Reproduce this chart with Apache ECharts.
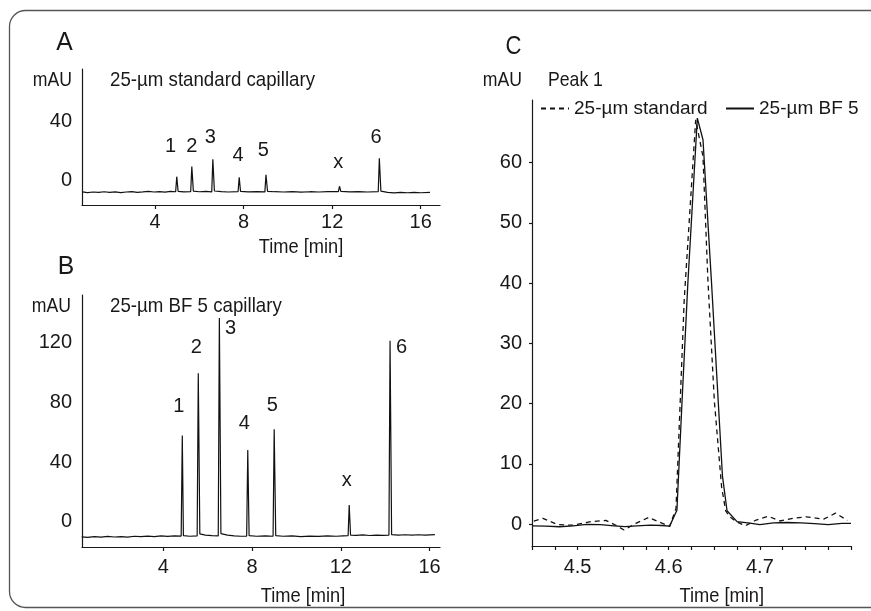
<!DOCTYPE html>
<html>
<head>
<meta charset="utf-8">
<script src="https://cdn.jsdelivr.net/npm/echarts@6/dist/echarts.min.js"></script>
<style>
html,body{margin:0;padding:0;background:#fff;}
#c{width:871px;height:611px;}
</style>
</head>
<body>
<div id="c"></div>
<script>
// ---------- DATA ----------
// Panel A: 25-µm standard capillary  [time (min), mAU]
const traceA = [[0.72,-7.4],[0.95,-7.9],[1.2,-7.5],[1.45,-7.8],[1.7,-7.3],[1.95,-7.7],[2.2,-7.4],[2.45,-7.9],[2.7,-7.5],[2.95,-7.2],[3.2,-7.7],[3.45,-7.4],[3.7,-7.0],[3.95,-7.5],[4.2,-7.2],[4.45,-7.6],[4.7,-7.1],[4.93,-7.3],[4.98,2.9],[5.04,-7.0],[5.3,-7.4],[5.61,-7.2],[5.66,9.7],[5.73,-6.9],[6.0,-7.3],[6.3,-7.1],[6.56,-7.4],[6.61,14.7],[6.68,-6.8],[7.0,-7.2],[7.3,-7.5],[7.75,-7.2],[7.80,2.5],[7.86,-7.1],[8.2,-7.4],[8.6,-7.2],[8.96,-7.4],[9.01,4.1],[9.08,-7.0],[9.4,-7.3],[9.8,-7.5],[10.2,-7.2],[10.6,-7.6],[11.0,-7.3],[11.4,-7.5],[11.8,-7.2],[12.28,-7.3],[12.33,-3.6],[12.39,-7.1],[12.8,-7.4],[13.2,-7.2],[13.6,-7.5],[14.08,-7.3],[14.13,15.4],[14.2,-6.9],[14.5,-7.8],[14.8,-8.1],[15.1,-7.8],[15.4,-8.0],[15.7,-7.7],[16.0,-8.0],[16.42,-7.8]];
// Panel B: 25-µm BF 5 capillary
const traceB = [[0.33,-10.2],[0.6,-10.5],[0.9,-10.0],[1.2,-10.4],[1.5,-9.9],[1.8,-10.3],[2.1,-10.0],[2.4,-10.4],[2.7,-9.8],[3.0,-10.1],[3.3,-9.7],[3.6,-10.0],[3.9,-9.6],[4.2,-9.9],[4.5,-9.5],[4.81,-9.7],[4.86,57.7],[4.91,-9.4],[5.2,-9.8],[5.53,-9.6],[5.58,99.6],[5.65,-8.2],[5.9,-9.0],[6.2,-9.4],[6.48,-9.5],[6.53,136.5],[6.6,-8.0],[6.9,-9.0],[7.2,-9.5],[7.5,-9.8],[7.76,-9.7],[7.81,48.1],[7.87,-9.4],[8.2,-9.8],[8.6,-9.5],[8.95,-9.8],[9.0,62.0],[9.07,-9.4],[9.4,-9.8],[9.8,-9.6],[10.2,-10.0],[10.6,-9.7],[11.0,-9.9],[11.4,-9.6],[11.8,-9.8],[12.1,-9.5],[12.33,-9.4],[12.38,11.2],[12.44,-9.0],[12.7,-9.2],[13.0,-8.9],[13.3,-9.3],[13.6,-9.0],[13.9,-9.2],[14.17,-9.0],[14.22,121.3],[14.29,-8.7],[14.6,-9.0],[14.9,-8.8],[15.2,-9.1],[15.5,-8.8],[15.8,-9.0],[16.24,-8.7]];
// Panel C: Peak 1 detail
const peakStandard = [[4.452,0.5],[4.462,0.95],[4.478,-0.1],[4.495,-0.2],[4.515,0.4],[4.531,0.6],[4.542,-0.2],[4.551,-1.0],[4.564,0.1],[4.578,1.1],[4.59,0.3],[4.601,-0.4],[4.608,2.6],[4.617,37.2],[4.6296,67.1],[4.6376,61.0],[4.643,40.5],[4.65,20.6],[4.658,6.2],[4.6625,2.2],[4.667,1.2],[4.674,0.4],[4.684,-0.3],[4.696,0.66],[4.709,1.3],[4.722,0.5],[4.737,0.95],[4.751,1.2],[4.77,0.8],[4.783,1.8],[4.796,0.6]];
const peakBF5 = [[4.45,-0.3],[4.465,-0.35],[4.48,-0.45],[4.495,-0.3],[4.51,-0.05],[4.525,-0.1],[4.54,-0.3],[4.552,-0.45],[4.565,-0.3],[4.58,-0.2],[4.592,-0.25],[4.601,-0.35],[4.609,2.3],[4.6145,20.0],[4.621,40.0],[4.6314,67.4],[4.6376,63.8],[4.6468,40.5],[4.659,7.9],[4.664,2.2],[4.675,0.4],[4.689,0.15],[4.7,-0.1],[4.715,0.2],[4.73,0.25],[4.745,0.2],[4.76,0.05],[4.775,-0.1],[4.79,0.1],[4.8,0.1]];
// peak labels
const peakNames = ['1','2','3','4','5','x','6'];
const labelTimeA = [4.70,5.66,6.50,7.75,8.89,12.27,13.98];
const labelValA  = [23.1,23.5,29.6,17.6,20.5,12.7,29.6];
const labelTimeB = [4.70,5.49,7.03,7.65,8.92,12.27,14.74];
const labelValB  = [76.9,116.9,129.8,65.7,77.7,27.8,117.1];
// ticks
const xTicksAB = [4,8,12,16];
const yTicksA = [0,40];
const yTicksB = [0,40,80,120];
const xTicksC = [4.45,4.475,4.5,4.525,4.55,4.575,4.6,4.625,4.65,4.675,4.7,4.725,4.75,4.775,4.8];
const xLabelsC = [4.5,4.6,4.7];
const yTicksC = [0,10,20,30,40,50,60];

// ---------- CHART ----------
const FF = "'Liberation Sans', Arial, sans-serif";
const INK = '#1a1718';
const chart = echarts.init(document.getElementById('c'), null, {renderer:'canvas'});

function xAx(grid, min, max, ticks, labels, margin, fmt){
  return {gridIndex:grid, type:'value', min:min, max:max,
    axisLine:{show:true, onZero:false, lineStyle:{color:INK, width:1.2}},
    axisTick:{show:true, length:4, customValues:ticks, lineStyle:{color:INK, width:1.2}},
    axisLabel:{customValues:labels, margin:margin, fontSize:20, fontFamily:FF, color:INK, formatter:fmt},
    splitLine:{show:false}};
}
function yAx(grid, min, max, labels, tickShow){
  return {gridIndex:grid, type:'value', min:min, max:max,
    axisLine:{show:true, onZero:false, lineStyle:{color:INK, width:1.2}},
    axisTick:{show:tickShow, length:3, customValues:labels, lineStyle:{color:INK, width:1.2}},
    axisLabel:{customValues:labels, margin:10, fontSize:20, fontFamily:FF, color:INK},
    splitLine:{show:false}};
}
function labelSeries(xi, times, vals){
  return {type:'scatter', xAxisIndex:xi, yAxisIndex:xi, symbolSize:1, silent:true,
    itemStyle:{color:'transparent', opacity:1},
    label:{show:true, position:'inside', formatter:p=>p.name, fontSize:20, fontFamily:FF, color:INK, opacity:1},
    data: times.map((t,i)=>({name:peakNames[i], value:[t, vals[i]]}))};
}
function txt(x,y,s,size,align,sx){
  return {type:'text', x:x, y:y, scaleX:sx||0.84, style:{x:0, y:0, text:s, fontSize:size, fontFamily:FF, fill:INK, align:align||'left', verticalAlign:'middle'}};
}
function legendAt(left, name){
  return {data:[name], left:left, top:99, padding:0, itemWidth:28, itemHeight:12, itemGap:0,
    itemStyle:{color:'transparent', borderColor:'transparent', borderWidth:0},
    textStyle:{fontSize:19, fontFamily:FF, color:INK}};
}

const option = {
  animation:false,
  backgroundColor:'#fff',
  grid:[
    {left:82, top:69, width:358, height:136},
    {left:82, top:295, width:358, height:252},
    {left:532, top:100, width:319, height:446}
  ],
  xAxis:[
    xAx(0, 0.70, 16.87, xTicksAB, xTicksAB, 7.5),
    xAx(1, 0.342, 16.47, xTicksAB, xTicksAB, 10),
    xAx(2, 4.45, 4.8, xTicksC, xLabelsC, 11, v=>v.toFixed(1))
  ],
  yAxis:[
    yAx(0, -16.3, 75.9, yTicksA, false),
    yAx(1, -17.0, 152.0, yTicksB, false),
    yAx(2, -3.65, 70.4, yTicksC, true)
  ],
  legend:[ legendAt(540, '25-µm standard'), legendAt(725, '25-µm BF 5') ],
  series:[
    {name:'A', type:'line', xAxisIndex:0, yAxisIndex:0, data:traceA, symbol:'none', lineStyle:{color:'#111', width:1.2}},
    {name:'B', type:'line', xAxisIndex:1, yAxisIndex:1, data:traceB, symbol:'none', lineStyle:{color:'#111', width:1.2}},
    {name:'25-µm standard', type:'line', xAxisIndex:2, yAxisIndex:2, data:peakStandard, symbol:'none', lineStyle:{color:'#111', width:1.3, type:[5,4]}, itemStyle:{color:'#111'}},
    {name:'25-µm BF 5', type:'line', xAxisIndex:2, yAxisIndex:2, data:peakBF5, symbol:'none', lineStyle:{color:'#111', width:1.3}, itemStyle:{color:'#111'}},
    labelSeries(0, labelTimeA, labelValA),
    labelSeries(1, labelTimeB, labelValB)
  ],
  graphic:[
    {type:'rect', shape:{x:9.5, y:10.5, width:900, height:597, r:16}, style:{fill:'none', stroke:'#555', lineWidth:1.3}},
    txt(64.5, 43, 'A', 26, 'center', 0.95),
    txt(66, 267, 'B', 26, 'center', 0.95),
    txt(513.5, 46.5, 'C', 26, 'center', 0.85),
    txt(72, 80, 'mAU', 21, 'right'),
    txt(71, 306, 'mAU', 21, 'right'),
    txt(522, 80, 'mAU', 21, 'right'),
    txt(110, 80, '25-µm standard capillary', 21, 'left', 0.89),
    txt(110, 306, '25-µm BF 5 capillary', 21, 'left', 0.89),
    txt(548, 80, 'Peak 1', 21, 'left'),
    txt(301, 247, 'Time [min]', 21, 'center', 0.87),
    txt(303, 596, 'Time [min]', 21, 'center', 0.87),
    txt(721.7, 596, 'Time [min]', 21, 'center', 0.87)
  ]
};
chart.setOption(option);
</script>
</body>
</html>
